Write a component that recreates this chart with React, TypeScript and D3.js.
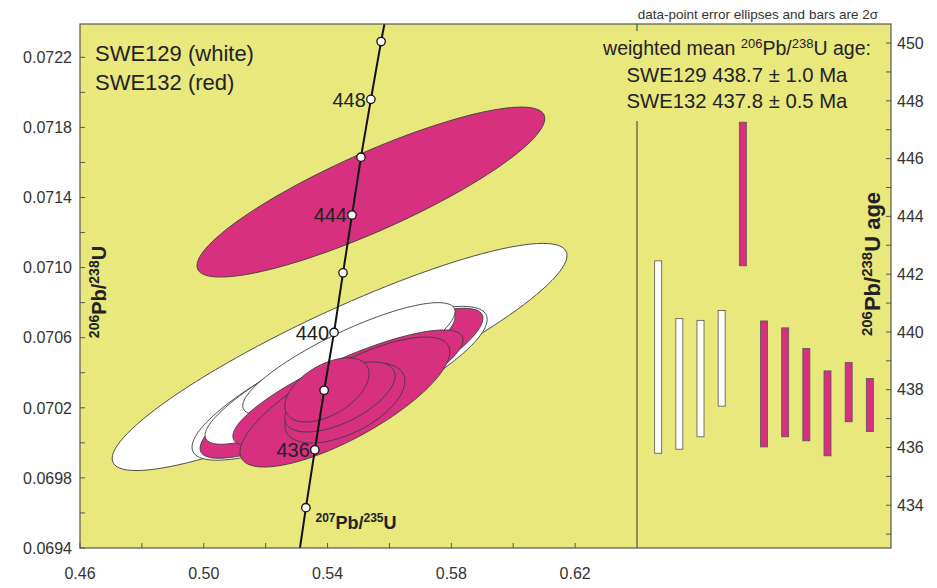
import React, { useEffect } from 'react';
import * as d3 from 'd3';

// concordia ticks (Ma) and their ratios
const concAges = [434, 436, 438, 440, 442, 444, 446, 448, 450];
const concX = [0.5330, 0.5359, 0.5389, 0.5421, 0.5450, 0.5479, 0.5508, 0.5540, 0.5573];
const concY = [0.06963, 0.06996, 0.07030, 0.07063, 0.07097, 0.07130, 0.07163, 0.07196, 0.07229];
const concLabelled = [436, 440, 444, 448];
// where the concordia leaves the frame
const concEndX = [0.5310, 0.5587];
const concEndY = [0.06939, 0.07242];

// error ellipses (2 sigma), in drawing order
const ellSample = ['129', '129', '132', '129', '129', '132', '132', '132', '132', '132', '132'];
const ellX = [0.5439, 0.5439, 0.5445, 0.5408, 0.5469, 0.5466, 0.5456, 0.5456, 0.5440, 0.5398, 0.5540];
const ellY = [0.07049, 0.07034, 0.07034, 0.07038, 0.07048, 0.070313, 0.070233, 0.070227, 0.070262, 0.070302, 0.071431];
const ellSx = [0.0735, 0.0477, 0.0457, 0.0404, 0.0343, 0.0372, 0.0339, 0.0194, 0.0178, 0.0136, 0.0562];
const ellSy = [0.000648, 0.000439, 0.000428, 0.000388, 0.00032, 0.000331, 0.000371, 0.000228, 0.0002, 0.000183, 0.000485];
const ellRho = [0.894, 0.83, 0.867, 0.87, 0.84, 0.83, 0.77, 0.55, 0.6, 0.5, 0.865];

// 206Pb/238U age bars (Ma)
const barSample = ['129', '129', '129', '129', '132', '132', '132', '132', '132', '132', '132'];
const barLo = [435.8, 435.94, 436.37, 437.43, 442.29, 436.02, 436.37, 436.23, 435.71, 436.89, 436.55];
const barHi = [442.46, 440.46, 440.4, 440.74, 447.26, 440.38, 440.14, 439.43, 438.65, 438.94, 438.39];

// axes
const xMajor = [0.46, 0.50, 0.54, 0.58, 0.62];
const xMajorLabels = ['0.46', '0.50', '0.54', '0.58', '0.62'];
const xMinor = [0.48, 0.52, 0.56, 0.60];
const yMajor = [0.0694, 0.0698, 0.0702, 0.0706, 0.0710, 0.0714, 0.0718, 0.0722];
const yMajorLabels = ['0.0694', '0.0698', '0.0702', '0.0706', '0.0710', '0.0714', '0.0718', '0.0722'];
const yMinor = [0.0696, 0.0700, 0.0704, 0.0708, 0.0712, 0.0716, 0.0720];
const ageMajor = [434, 436, 438, 440, 442, 444, 446, 448, 450];
const ageMinor = [433, 435, 437, 439, 441, 443, 445, 447, 449];

const YELLOW = '#e8e87c';
const RED = '#d7307f';
const FONT = '"Liberation Sans", Arial, sans-serif';

const App: React.FC = () => {
    useEffect(() => {
        document.body.style.margin = '0';
    }, []);

    const left = 80, top = 24, right = 891, bottom = 548;

    const x = d3.scaleLinear().domain([0.46, 0.64]).range([left, 637]);
    const y = d3.scaleLinear().domain([0.0694, 0.07239]).range([bottom, top]);
    const age = d3.scaleLinear().domain([432.52, 450.66]).range([bottom, top]);
    const sep = x(0.64);
    const barX = d3.scalePoint<number>().domain(d3.range(barLo.length)).range([sep, right]).padding(1);

    const line = d3.line<[number, number]>().x(d => x(d[0])).y(d => y(d[1]));

    const ellipsePath = (i: number) => {
        const n = 120;
        const s = Math.sqrt(1 - ellRho[i] * ellRho[i]);
        const pts: [number, number][] = d3.range(n).map(k => {
            const t = (k / n) * Math.PI * 2;
            return [
                ellX[i] + ellSx[i] * Math.cos(t),
                ellY[i] + ellSy[i] * (ellRho[i] * Math.cos(t) + s * Math.sin(t)),
            ];
        });
        return line(pts) + 'Z';
    };

    const concPts: [number, number][] = [
        [concEndX[0], concEndY[0]],
        ...concX.map((v, i) => [v, concY[i]] as [number, number]),
        [concEndX[1], concEndY[1]],
    ];

    return (
        <svg width={937} height={588} style={{ display: 'block', background: '#fff', fontFamily: FONT }}>
            <defs>
                <clipPath id="plotClip">
                    <rect x={left} y={top} width={sep - left} height={bottom - top} />
                </clipPath>
            </defs>

            <rect x={left} y={top} width={right - left} height={bottom - top} fill={YELLOW} />

            {/* ellipses */}
            <g clipPath="url(#plotClip)">
                {ellX.map((_, i) => (
                    <path key={i} d={ellipsePath(i)}
                        fill={ellSample[i] === '129' ? '#ffffff' : RED}
                        stroke="#3c3c3c" strokeWidth={0.9} />
                ))}
                <path d={line(concPts) || ''} fill="none" stroke="#111" strokeWidth={2} />
            </g>
            {concAges.map((a, i) => (
                <circle key={a} cx={x(concX[i])} cy={y(concY[i])} r={4.2}
                    fill="#fff" stroke="#111" strokeWidth={1.3} />
            ))}
            {concAges.map((a, i) => concLabelled.includes(a) ? (
                <text key={'l' + a} x={x(concX[i]) - 5} y={y(concY[i])} dy="0.36em"
                    textAnchor="end" fontSize={20} fill="#222">{a}</text>
            ) : null)}

            {/* separator */}
            <line x1={sep} x2={sep} y1={top} y2={bottom} stroke="#333" strokeWidth={1} />
            <rect x={585} y={31} width={300} height={90} fill={YELLOW} />

            {/* bars */}
            {barLo.map((lo, i) => (
                <rect key={i} x={(barX(i) as number) - 3.5} y={age(barHi[i])} width={7}
                    height={age(lo) - age(barHi[i])}
                    fill={barSample[i] === '129' ? '#ffffff' : RED}
                    stroke="#555" strokeWidth={0.8} />
            ))}

            {/* frame */}
            <rect x={left} y={top} width={right - left} height={bottom - top} fill="none" stroke="#555" strokeWidth={1.2} />

            {/* x axis */}
            {xMajor.concat(xMinor).map(v => (
                <line key={'xt' + v} x1={x(v)} x2={x(v)} y1={bottom} y2={bottom - 5} stroke="#555" />
            ))}
            {xMajor.map((v, i) => (
                <text key={'xl' + v} x={x(v)} y={bottom + 31} textAnchor="middle" fontSize={16} fill="#333">{xMajorLabels[i]}</text>
            ))}

            {/* left y axis */}
            {yMajor.concat(yMinor).map(v => (
                <line key={'yt' + v} x1={left} x2={left + 5} y1={y(v)} y2={y(v)} stroke="#555" />
            ))}
            {yMajor.map((v, i) => (
                <text key={'yl' + v} x={left - 8} y={y(v)} dy="0.36em" textAnchor="end" fontSize={16} fill="#333">{yMajorLabels[i]}</text>
            ))}

            {/* right age axis */}
            {ageMajor.concat(ageMinor).map(v => (
                <line key={'at' + v} x1={right} x2={right - 5} y1={age(v)} y2={age(v)} stroke="#555" />
            ))}
            {ageMajor.map(v => (
                <text key={'al' + v} x={right + 6} y={age(v)} dy="0.36em" fontSize={16} fill="#333">{v}</text>
            ))}

            {/* axis titles */}
            <text x={356} y={529} textAnchor="middle" fontSize={18} fontWeight="bold" fill="#222">
                <tspan fontSize={12} dy={-7}>207</tspan><tspan dy={7}>Pb/</tspan>
                <tspan fontSize={12} dy={-7}>235</tspan><tspan dy={7}>U</tspan>
            </text>
            <text transform={`translate(106,292) rotate(-90)`} textAnchor="middle" fontSize={20} fontWeight="bold" fill="#222">
                <tspan fontSize={14} dy={-7}>206</tspan><tspan dy={7}>Pb/</tspan>
                <tspan fontSize={14} dy={-7}>238</tspan><tspan dy={7}>U</tspan>
            </text>
            <text transform={`translate(880,264) rotate(-90)`} textAnchor="middle" fontSize={22} fontWeight="bold" fill="#222">
                <tspan fontSize={15} dy={-8}>206</tspan><tspan dy={8}>Pb/</tspan>
                <tspan fontSize={15} dy={-8}>238</tspan><tspan dy={8}>U age</tspan>
            </text>

            {/* legend and notes */}
            <text x={95} y={61} fontSize={22} fill="#222">SWE129 (white)</text>
            <text x={95} y={90} fontSize={22} fill="#222">SWE132 (red)</text>

            <text x={878} y={19} textAnchor="end" fontSize={13.5} fill="#333">data-point error ellipses and bars are 2σ</text>
            <text x={737} y={55} textAnchor="middle" fontSize={19.5} fill="#222">
                weighted mean <tspan fontSize={13} dy={-7}>206</tspan><tspan dy={7}>Pb/</tspan>
                <tspan fontSize={13} dy={-7}>238</tspan><tspan dy={7}>U age:</tspan>
            </text>
            <text x={737} y={82} textAnchor="middle" fontSize={20.3} fill="#222">SWE129 438.7 ± 1.0 Ma</text>
            <text x={737} y={108} textAnchor="middle" fontSize={20.3} fill="#222">SWE132 437.8 ± 0.5 Ma</text>
        </svg>
    );
};

export default App;
